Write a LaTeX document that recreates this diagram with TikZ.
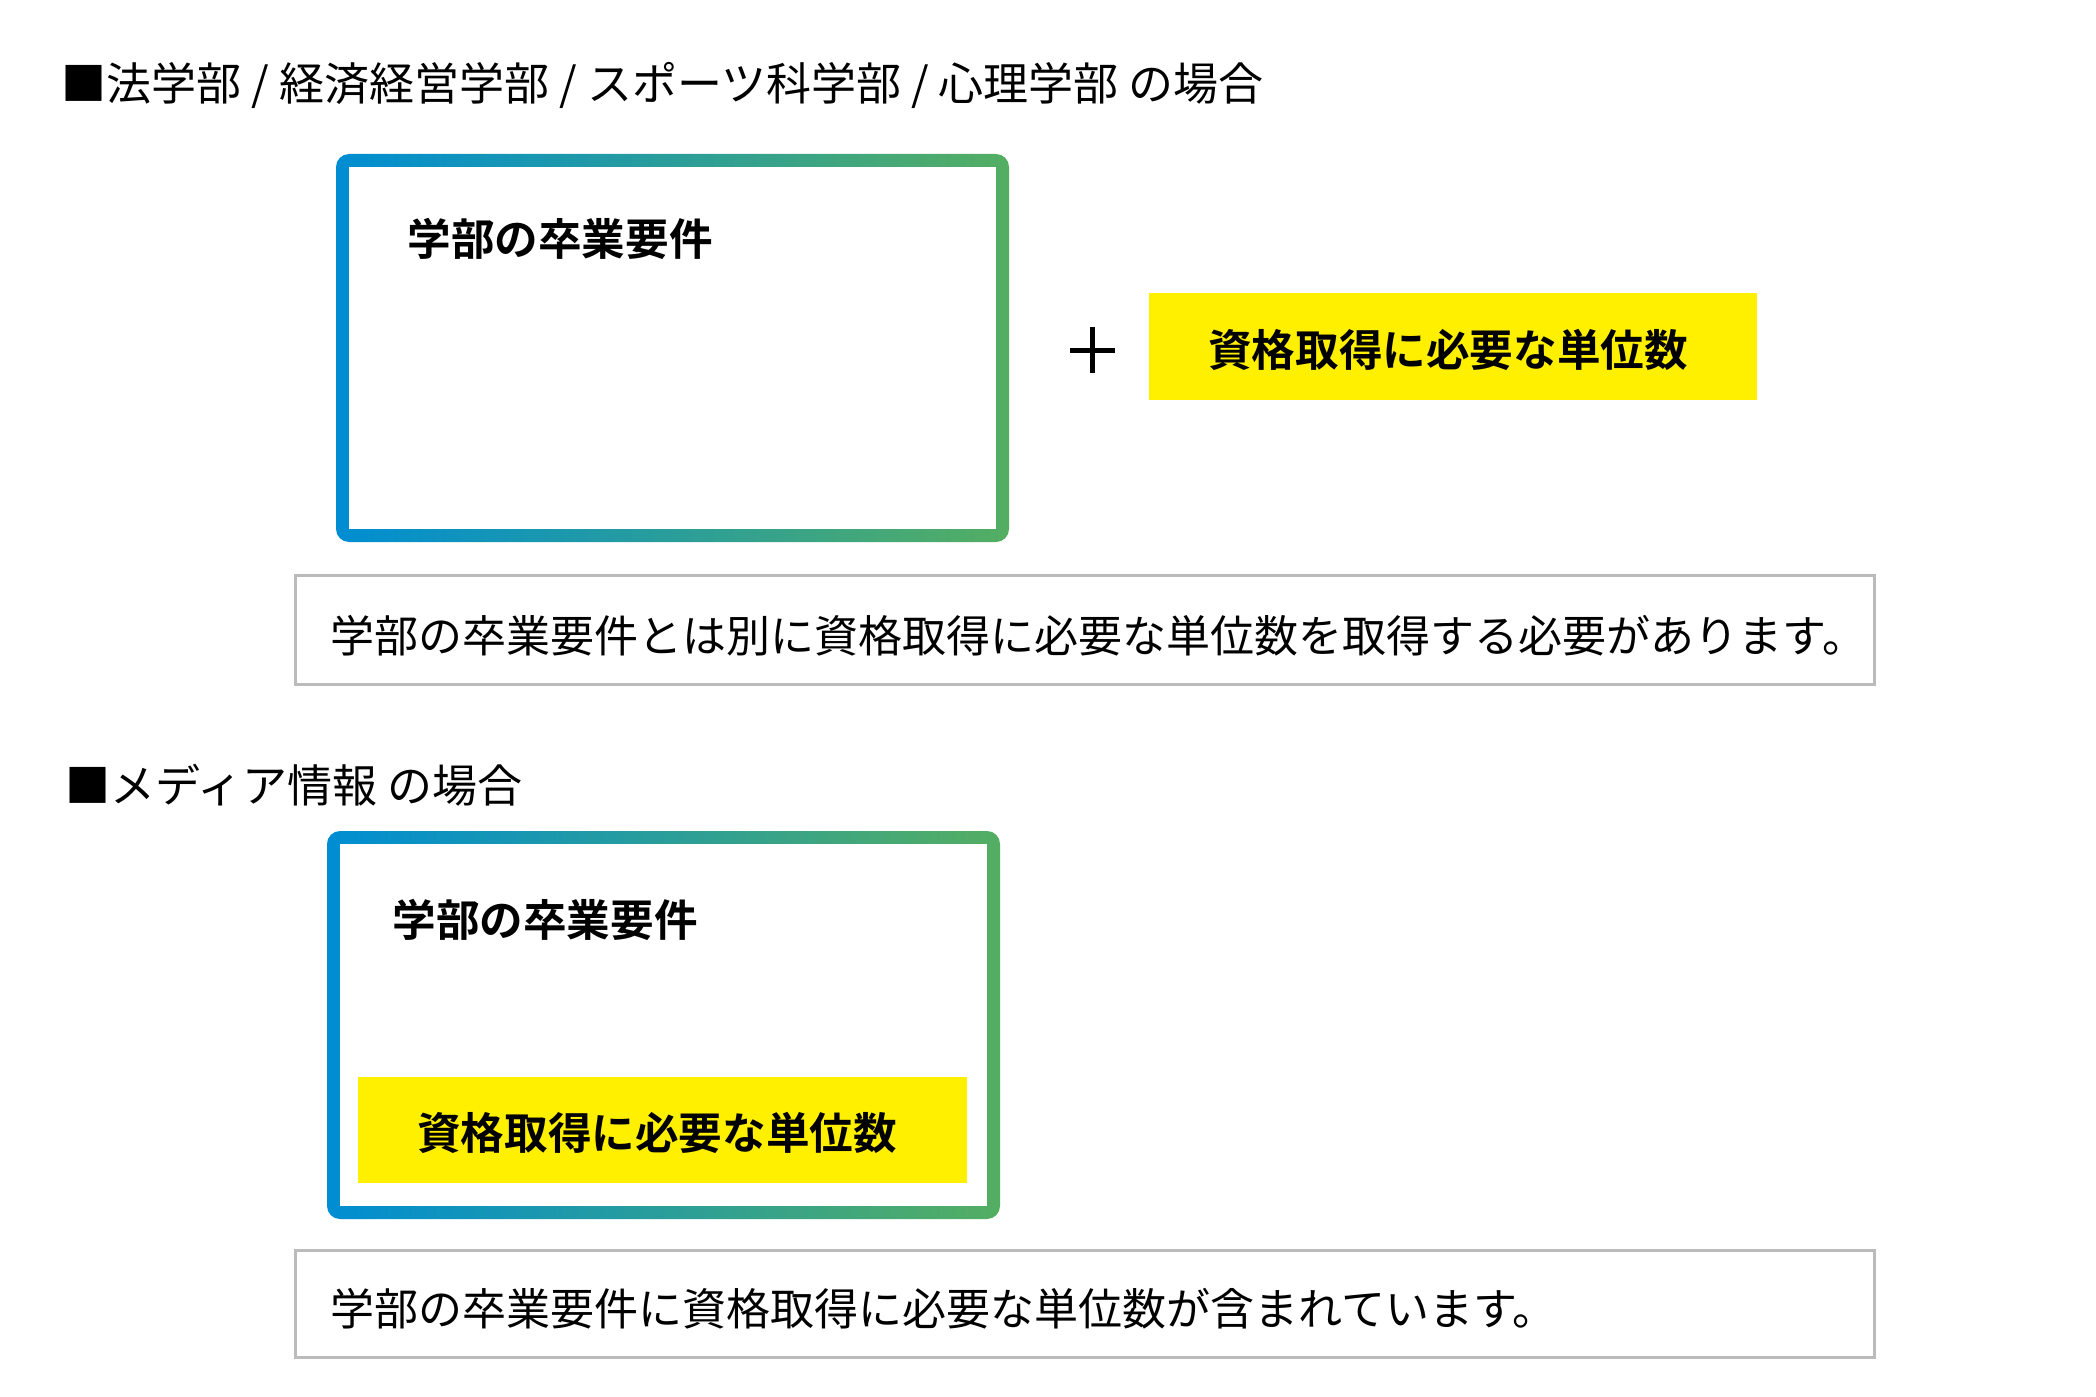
\documentclass[tikz,border=0pt]{standalone}
\usepackage{fontspec}
\setmainfont{Noto Sans CJK JP}[BoldFont={Noto Sans CJK JP Bold}]
\definecolor{gradL}{RGB}{0,141,210}
\definecolor{gradR}{RGB}{84,174,98}
\definecolor{hiyel}{RGB}{255,240,0}
\definecolor{notegray}{RGB}{187,187,187}
\begin{document}
\begin{tikzpicture}[x=0.5pt,y=-0.5pt,
  txt/.style={inner sep=0pt,anchor=base west,font=\fontsize{22pt}{26pt}\selectfont},
  htxt/.style={inner sep=0pt,anchor=base west,font=\fontsize{22.5pt}{26pt}\selectfont},
  btxt/.style={inner sep=0pt,anchor=base,font=\fontsize{21.8pt}{26pt}\selectfont\bfseries},
  outerbox/.style={inner sep=0pt,rounded corners=6.5pt,left color=gradL,right color=gradR,draw=none,minimum width=336.5pt,minimum height=194pt},
  innerbox/.style={inner sep=0pt,fill=white,draw=none,minimum width=323.5pt,minimum height=181pt},
  yelbox/.style={inner sep=0pt,fill=hiyel,draw=none},
  notebox/.style={inner sep=0pt,draw=notegray,line width=1.5pt,minimum width=789.5pt}
]
\useasboundingbox[fill=white] (0,0) rectangle (2096,1396);

% section 1
\node[htxt] (h1) at (61,101) {■法学部 / 経済経営学部 / スポーツ科学部 / 心理学部 の場合};
\node[outerbox] (b1o) at (672.5,348) {};
\node[innerbox] (b1i) at (672.5,348) {};
\node[btxt,anchor=base west] (b1t) at (407,256) {学部の卒業要件};
\coordinate (pl) at (1070,350.5);
\coordinate (pr) at (1115,350.5);
\coordinate (pt) at (1092.5,327);
\coordinate (pb) at (1092.5,373);
\draw[line width=2.25pt] (pl) -- (pr);
\draw[line width=2.25pt] (pt) -- (pb);
\node[yelbox,minimum width=304pt,minimum height=53.5pt] (y1) at (1453,346.5) {};
\node[btxt] (y1t) at (1448,366) {資格取得に必要な単位数};
\node[notebox,minimum height=54.5pt] (n1) at (1085,630) {};
\node[txt] (n1t) at (330,652) {学部の卒業要件とは別に資格取得に必要な単位数を取得する必要があります。};

% section 2
\node[htxt] (h2) at (65,802) {■メディア情報 の場合};
\node[outerbox] (b2o) at (663.5,1025) {};
\node[innerbox] (b2i) at (663.5,1025) {};
\node[btxt,anchor=base west] (b2t) at (392,936) {学部の卒業要件};
\node[yelbox,minimum width=304.5pt,minimum height=53pt] (y2) at (662.5,1130) {};
\node[btxt] (y2t) at (657,1149) {資格取得に必要な単位数};
\node[notebox,minimum height=53.5pt] (n2) at (1085,1304) {};
\node[txt] (n2t) at (330,1325) {学部の卒業要件に資格取得に必要な単位数が含まれています。};
\end{tikzpicture}
\end{document}
